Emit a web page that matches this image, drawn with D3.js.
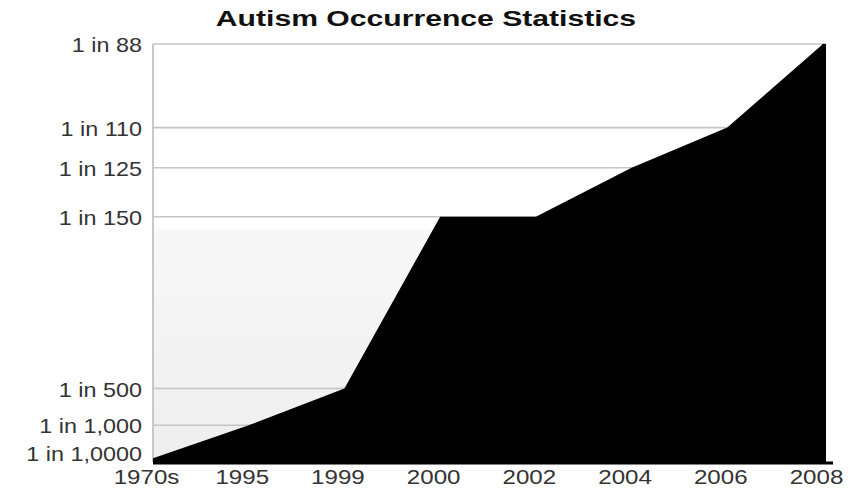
<!DOCTYPE html>
<html>
<head>
<meta charset="utf-8">
<script src="https://cdn.jsdelivr.net/npm/d3@7"></script>
<style>
  html, body { margin: 0; padding: 0; background: #ffffff; }
  svg { display: block; font-family: "Liberation Sans", Arial, Helvetica, sans-serif; }
</style>
</head>
<body>
<svg id="chart" width="859" height="490"></svg>
<script>
// Reported prevalence of autism, expressed as "1 in N"
const years = ["1970s", "1995", "1999", "2000", "2002", "2004", "2006", "2008"];
const oneInN = [10000, 1000, 500, 150, 150, 125, 110, 88];

// Y axis ticks (rate = 1 / N)
const tickN = [88, 110, 125, 150, 500, 1000, 10000];
const tickLabels = ["1 in 88", "1 in 110", "1 in 125", "1 in 150", "1 in 500", "1 in 1,000", "1 in 1,0000"];

const svg = d3.select("#chart");
const plotLeft = 153, plotRight = 823, plotTop = 44, plotBottom = 462;

const x = d3.scalePoint().domain(years).range([plotLeft, plotRight]);
const y = d3.scaleLinear().domain([0, 1 / 88]).range([plotBottom, plotTop]);

const data = years.map((yr, i) => ({ year: yr, rate: 1 / oneInN[i] }));

// light shaded lower band of the plot
const defs = svg.append("defs");
const grad = defs.append("linearGradient").attr("id", "band")
  .attr("x1", 0).attr("y1", 0).attr("x2", 0).attr("y2", 1);
grad.append("stop").attr("offset", 0).attr("stop-color", "#f8f8f8");
grad.append("stop").attr("offset", 1).attr("stop-color", "#eeeeee");
svg.append("rect")
  .attr("x", plotLeft).attr("y", y(1 / 150) + 12)
  .attr("width", plotRight + 3 - plotLeft).attr("height", plotBottom - y(1 / 150) - 12)
  .attr("fill", "url(#band)");

// horizontal gridlines
svg.append("g").selectAll("line")
  .data(tickN.filter(n => n !== 10000))
  .join("line")
  .attr("x1", plotLeft).attr("x2", plotRight + 3)
  .attr("y1", n => y(1 / n)).attr("y2", n => y(1 / n))
  .attr("stroke", "#c4c4c4").attr("stroke-width", 1.6);

// left frame line
svg.append("line")
  .attr("x1", plotLeft).attr("x2", plotLeft)
  .attr("y1", plotTop).attr("y2", plotBottom)
  .attr("stroke", "#c8c8c8").attr("stroke-width", 2);

// filled area
const area = d3.area()
  .x(d => x(d.year))
  .y0(y(0))
  .y1(d => y(d.rate));
svg.append("path")
  .datum(data)
  .attr("d", area)
  .attr("fill", "#000000");
// thin vertical edge on the right side of the area
svg.append("rect")
  .attr("x", x(years[years.length - 1]) - 1).attr("y", y(1 / 88))
  .attr("width", 4).attr("height", y(0) - y(1 / 88))
  .attr("fill", "#000000");

// x baseline
svg.append("line")
  .attr("x1", plotLeft).attr("x2", plotRight + 10)
  .attr("y1", plotBottom + 1).attr("y2", plotBottom + 1)
  .attr("stroke", "#000").attr("stroke-width", 3);

// Y axis labels
const ySx = 1.17;
const yAxis = d3.axisLeft(y)
  .tickValues(tickN.map(n => 1 / n))
  .tickFormat((d, i) => tickLabels[i])
  .tickSize(0);
const gy = svg.append("g").attr("transform", `translate(${plotLeft},0)`).call(yAxis);
gy.select(".domain").remove();
gy.selectAll("text")
  .attr("x", -11 / ySx)
  .attr("dy", "0.38em")
  .attr("transform", `scale(${ySx},1)`)
  .attr("fill", "#333")
  .style("font-family", "'Liberation Sans', Arial, sans-serif")
  .style("font-size", "20px");
gy.selectAll(".tick").each(function(d, i) {
  if (tickN[i] === 10000) d3.select(this).select("text").attr("dy", "0.1em");
});

// X axis labels
const xSx = 1.15;
const xAxis = d3.axisBottom(x).tickSize(0);
const gx = svg.append("g").attr("transform", `translate(0,${plotBottom})`).call(xAxis);
gx.select(".domain").remove();
gx.selectAll("text")
  .attr("x", -7 / xSx)
  .attr("y", 22)
  .attr("dy", 0)
  .attr("transform", `scale(${xSx},1)`)
  .attr("fill", "#333")
  .style("font-family", "'Liberation Sans', Arial, sans-serif")
  .style("font-size", "21px");

// title
const tSx = 1.37;
svg.append("text")
  .attr("transform", `translate(426,26) scale(${tSx},1)`)
  .attr("text-anchor", "middle")
  .attr("fill", "#111")
  .style("font-weight", "bold")
  .style("font-size", "22px")
  .text("Autism Occurrence Statistics");
</script>
</body>
</html>
